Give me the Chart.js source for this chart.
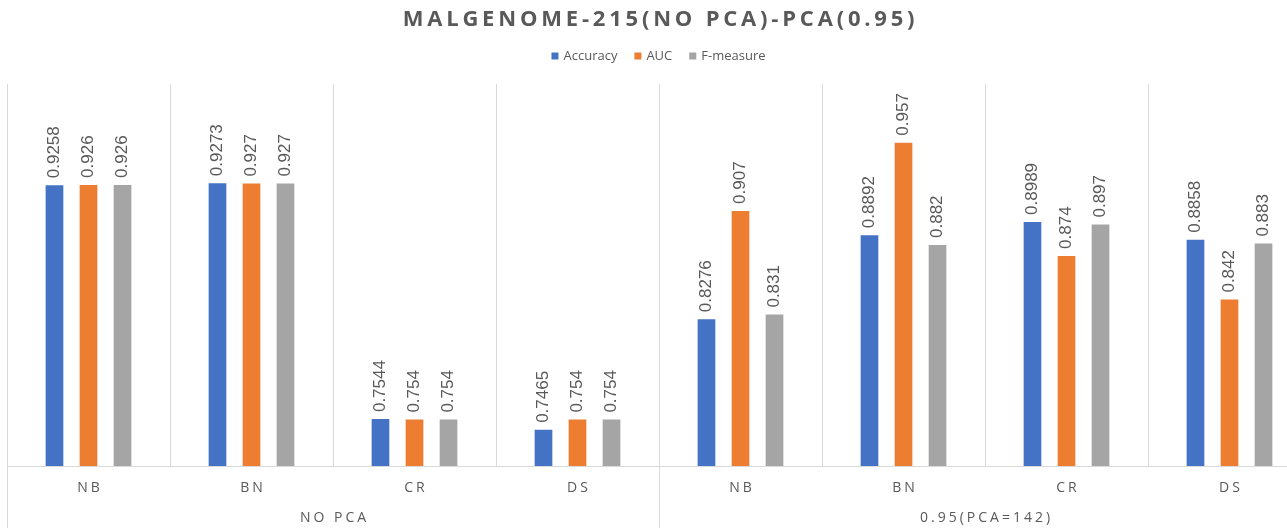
<!DOCTYPE html>
<html>
<head>
<meta charset="utf-8">
<script src="https://cdn.jsdelivr.net/npm/chart.js@4.4.1/dist/chart.umd.min.js"></script>
<style>
  html, body { margin: 0; padding: 0; background: #fff; overflow: hidden; }
  #wrap { position: relative; width: 1315px; height: 528px; }
</style>
</head>
<body>
<div id="wrap"><canvas id="c" width="1315" height="528"></canvas></div>
<script>
const titleText = "MALGENOME-215(NO PCA)-PCA(0.95)";
const categories = ["NB", "BN", "CR", "DS", "NB", "BN", "CR", "DS"];
const groups = ["NO PCA", "0.95(PCA=142)"];
const groupSize = 4;
const seriesNames = ["Accuracy", "AUC", "F-measure"];
const accuracy = [0.9258, 0.9273, 0.7544, 0.7465, 0.8276, 0.8892, 0.8989, 0.8858];
const auc = [0.926, 0.927, 0.754, 0.754, 0.907, 0.957, 0.874, 0.842];
const fmeasure = [0.926, 0.927, 0.754, 0.754, 0.831, 0.882, 0.897, 0.883];
const colors = ["#4472C4", "#ED7D31", "#A5A5A5"];
const textColor = "#595959";
const gridColor = "#D9D9D9";

const extras = {
  id: "extras",
  afterDraw(chart) {
    const ctx = chart.ctx;
    const area = chart.chartArea;
    const x = chart.scales.x;
    const cx = chart.width / 2 + 1;
    ctx.save();
    // title
    ctx.fillStyle = textColor;
    ctx.font = "bold 22px 'Open Sans'";
    ctx.letterSpacing = "3.8px";
    ctx.textAlign = "center";
    ctx.textBaseline = "middle";
    ctx.fillText(titleText, cx + 2, 20);
    // legend
    ctx.letterSpacing = "0px";
    ctx.font = "13px 'Open Sans'";
    ctx.textAlign = "left";
    const gap = 17, box = 7, boxGap = 5;
    const widths = seriesNames.map(n => box + boxGap + ctx.measureText(n).width);
    const total = widths.reduce((a, b) => a + b, 0) + gap * (seriesNames.length - 1);
    let lx = cx - total / 2;
    const ly = 56;
    seriesNames.forEach((n, i) => {
      ctx.fillStyle = colors[i];
      ctx.fillRect(lx, ly - box / 2, box, box);
      ctx.fillStyle = textColor;
      ctx.fillText(n, lx + box + boxGap, ly);
      lx += widths[i] + gap;
    });
    // category labels
    ctx.font = "14px 'Open Sans'";
    ctx.letterSpacing = "3px";
    ctx.textAlign = "center";
    categories.forEach((c, i) => {
      ctx.fillText(c, x.getPixelForValue(i) + 1.5, 488);
    });
    // group labels and separators
    const catW = x.getPixelForValue(1) - x.getPixelForValue(0);
    ctx.strokeStyle = gridColor;
    ctx.lineWidth = 1;
    groups.forEach((g, gi) => {
      const start = x.getPixelForValue(gi * groupSize) - catW / 2;
      const end = x.getPixelForValue(gi * groupSize + groupSize - 1) + catW / 2;
      ctx.fillStyle = textColor;
      ctx.fillText(g, (start + end) / 2 + 1.5, 518);
      [start, end].forEach(px => {
        const p = Math.round(px) + 0.5;
        ctx.beginPath();
        ctx.moveTo(p, area.bottom);
        ctx.lineTo(p, chart.height);
        ctx.stroke();
      });
    });
    ctx.restore();
  },
  afterDatasetsDraw(chart) {
    const ctx = chart.ctx;
    ctx.save();
    ctx.fillStyle = textColor;
    ctx.font = "17px 'Liberation Sans Narrow', 'Liberation Sans', sans-serif";
    ctx.textAlign = "left";
    ctx.textBaseline = "middle";
    chart.data.datasets.forEach((ds, di) => {
      chart.getDatasetMeta(di).data.forEach((bar, i) => {
        ctx.save();
        ctx.translate(bar.x, bar.y - 7);
        ctx.rotate(-Math.PI / 2);
        ctx.fillText(String(ds.data[i]), 0, 0);
        ctx.restore();
      });
    });
    ctx.restore();
  }
};

new Chart(document.getElementById("c"), {
  type: "bar",
  data: {
    labels: categories,
    datasets: [
      { label: seriesNames[0], data: accuracy, backgroundColor: colors[0] },
      { label: seriesNames[1], data: auc, backgroundColor: colors[1] },
      { label: seriesNames[2], data: fmeasure, backgroundColor: colors[2] }
    ]
  },
  options: {
    responsive: false,
    animation: false,
    events: [],
    layout: { padding: { top: 84, left: 7, right: 4, bottom: 0 } },
    datasets: { bar: { categoryPercentage: 0.626, barPercentage: 0.52 } },
    plugins: { legend: { display: false }, title: { display: false }, tooltip: { enabled: false } },
    scales: {
      x: {
        ticks: { display: false },
        grid: { offset: true, color: gridColor, drawTicks: false },
        border: { display: true, color: gridColor },
        afterFit(scale) { scale.height = 62; }
      },
      y: {
        display: false,
        min: 0.72,
        max: 1.0
      }
    }
  },
  plugins: [extras]
});
</script>
</body>
</html>
